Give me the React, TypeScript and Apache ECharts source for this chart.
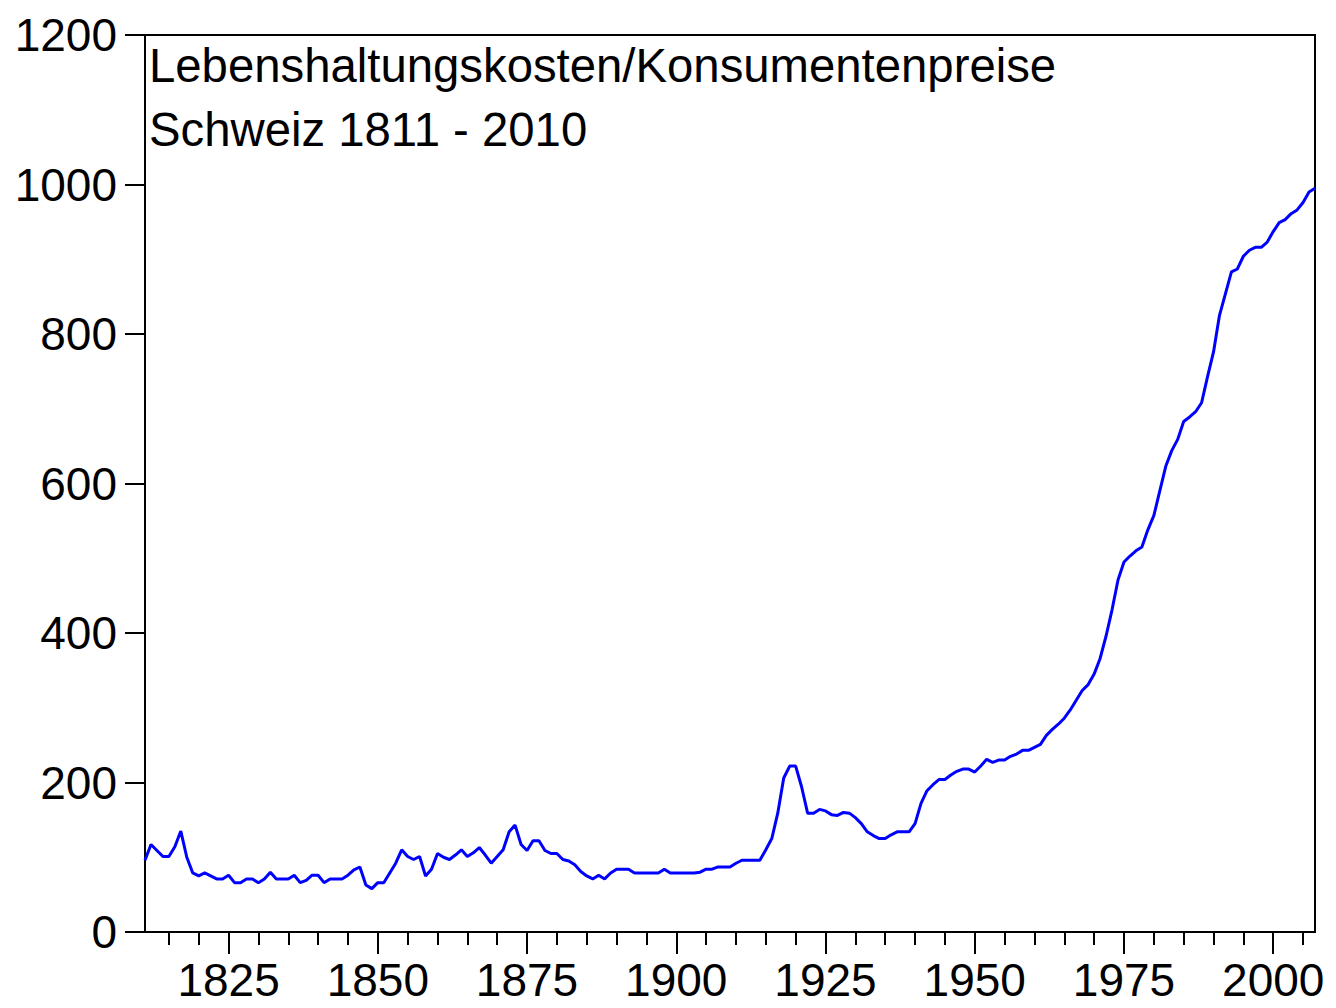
import React, { useEffect, useRef } from "react";
import * as echarts from "echarts";

const startYear = 1811;
const endYear = 2007;
const years: string[] = [];
for (let y = startYear; y <= endYear; y++) years.push(String(y));

const cpi: number[] = [
  96, 117, 109, 101, 101, 114, 135, 100, 79, 75, // 1811-1820
  79, 75, 71, 71, 76, 66, 66, 71, 71, 66, // 1821-1830
  71, 80, 71, 71, 71, 76, 66, 69, 76, 76, // 1831-1840
  66, 71, 71, 71, 76, 83, 87, 63, 58, 66, // 1841-1850
  66, 79, 92, 110, 101, 97, 101, 75, 84, 105, // 1851-1860
  100, 97, 103, 110, 101, 106, 113, 103, 92, 101, // 1861-1870
  110, 134, 143, 117, 109, 122, 122, 109, 105, 105, // 1871-1880
  97, 95, 90, 81, 75, 71, 76, 71, 79, 84, // 1881-1890
  84, 84, 79, 79, 79, 79, 79, 84, 79, 79, // 1891-1900
  79, 79, 79, 80, 84, 84, 87, 87, 87, 92, // 1901-1910
  96, 96, 96, 96, 110, 125, 159, 206, 222, 222, // 1911-1920
  194, 159, 159, 164, 162, 157, 156, 160, 159, 153, // 1921-1930
  145, 134, 129, 125, 125, 130, 134, 134, 134, 145, // 1931-1940
  172, 189, 197, 204, 204, 210, 215, 218, 218, 214, // 1941-1950
  222, 231, 227, 230, 230, 235, 238, 243, 243, 247, // 1951-1960
  251, 263, 271, 278, 286, 297, 310, 323, 331, 345, // 1961-1970
  366, 396, 431, 471, 495, 503, 510, 515, 538, 557, // 1971-1980
  590, 623, 644, 659, 683, 689, 696, 708, 743, 776, // 1981-1990
  825, 854, 883, 887, 904, 912, 916, 916, 923, 937, // 1991-2000
  949, 953, 961, 966, 976, 990, 995, // 2001-2007
];

const titleLine1 = "Lebenshaltungskosten/Konsumentenpreise";
const titleLine2 = "Schweiz 1811 - 2010";

const FONT = '"Liberation Sans", Arial, Helvetica, sans-serif';

export default function App() {
  const ref = useRef<HTMLDivElement>(null);
  useEffect(() => {
    document.body.style.margin = "0";
    if (!ref.current) return;
    const chart = echarts.init(ref.current, undefined, { renderer: "svg" });
    chart.setOption({
      animation: false,
      backgroundColor: "#ffffff",
      grid: {
        left: 145,
        right: 21,
        top: 35,
        bottom: 76,
        show: true,
        borderColor: "#000",
        borderWidth: 2,
        backgroundColor: "#fff",
      },
      graphic: [
        {
          type: "text",
          left: 149,
          top: 42,
          z: 10,
          style: { text: titleLine1, font: `47.3px ${FONT}`, fill: "#000" },
        },
        {
          type: "text",
          left: 149,
          top: 106,
          z: 10,
          style: { text: titleLine2, font: `47.3px ${FONT}`, fill: "#000" },
        },
      ],
      xAxis: [
        {
          type: "category",
          data: years,
          boundaryGap: false,
          position: "bottom",
          axisLine: { show: true, lineStyle: { color: "#000", width: 2 } },
          axisTick: {
            show: true,
            length: 13,
            interval: (_i: number, v: string) => Number(v) % 5 === 0,
            lineStyle: { color: "#000", width: 2 },
          },
          axisLabel: { show: false },
          splitLine: { show: false },
        },
        {
          type: "category",
          data: years,
          boundaryGap: false,
          position: "bottom",
          axisLine: { show: false },
          axisTick: {
            show: true,
            length: 22,
            interval: (_i: number, v: string) => Number(v) % 25 === 0,
            lineStyle: { color: "#000", width: 2 },
          },
          axisLabel: {
            show: true,
            interval: (_i: number, v: string) => Number(v) % 25 === 0,
            margin: 25,
            color: "#000",
            fontSize: 46,
            lineHeight: 46,
            fontFamily: FONT,
          },
          splitLine: { show: false },
        },
      ],
      yAxis: {
        type: "value",
        min: 0,
        max: 1200,
        interval: 200,
        axisLine: { show: true, lineStyle: { color: "#000", width: 2 } },
        axisTick: { show: true, inside: false, length: 20, lineStyle: { color: "#000", width: 2 } },
        axisLabel: {
          color: "#000",
          fontSize: 46,
          fontFamily: FONT,
          margin: 28,
          formatter: (v: number) => String(v),
        },
        splitLine: { show: false },
      },
      series: [
        {
          type: "line",
          xAxisIndex: 0,
          data: cpi,
          showSymbol: false,
          symbol: "none",
          lineStyle: { color: "#0000ff", width: 3 },
          itemStyle: { color: "#0000ff" },
        },
      ],
    });
    return () => chart.dispose();
  }, []);
  return <div ref={ref} style={{ width: 1336, height: 1008 }} />;
}
